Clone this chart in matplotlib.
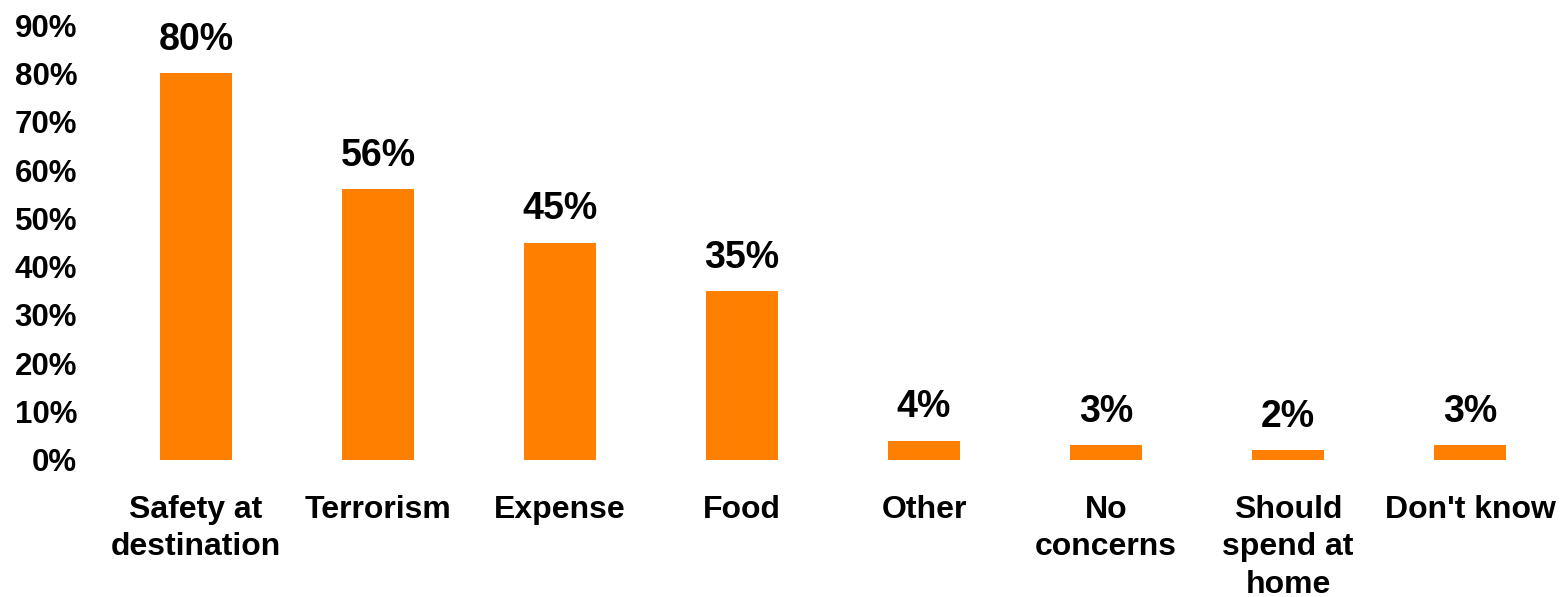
import matplotlib.pyplot as plt

plt.rcParams['font.family'] = ['Liberation Sans', 'DejaVu Sans']
plt.rcParams['font.weight'] = 'bold'

# data
categories = ['Safety at\ndestination', 'Terrorism', 'Expense', 'Food', 'Other',
              'No\nconcerns', 'Should\nspend at\nhome', "Don't know"]
values = [80, 56, 45, 35, 4, 3, 2, 3]
yticks = [0, 10, 20, 30, 40, 50, 60, 70, 80, 90]
ytick_labels = ['0%', '10%', '20%', '30%', '40%', '50%', '60%', '70%', '80%', '90%']

fig = plt.figure(figsize=(15.64, 5.97), dpi=100)
ax = fig.add_axes([0.0671, 0.2295, 0.931, 0.7286])

x = range(len(categories))
ax.bar(x, values, width=0.4, color='#FF7F00')

for i, v in enumerate(values):
    ax.annotate(f'{v}%', (i, v), xytext=(0, 11), textcoords='offset points',
                ha='center', va='bottom', fontsize=27, fontweight='bold')

ax.set_xlim(-0.5, len(categories) - 0.5)
ax.set_ylim(0, 90)
ax.set_yticks(yticks)
ax.set_yticklabels(ytick_labels, fontsize=22.5, fontweight='bold')
ax.set_xticks(list(x))
ax.set_xticklabels(categories, fontsize=23, fontweight='bold', va='top',
                   linespacing=1.33)
ax.tick_params(axis='both', length=0)
ax.tick_params(axis='x', pad=25)
ax.tick_params(axis='y', pad=20)
for s in ax.spines.values():
    s.set_visible(False)

fig.savefig('out.png', dpi=100)
